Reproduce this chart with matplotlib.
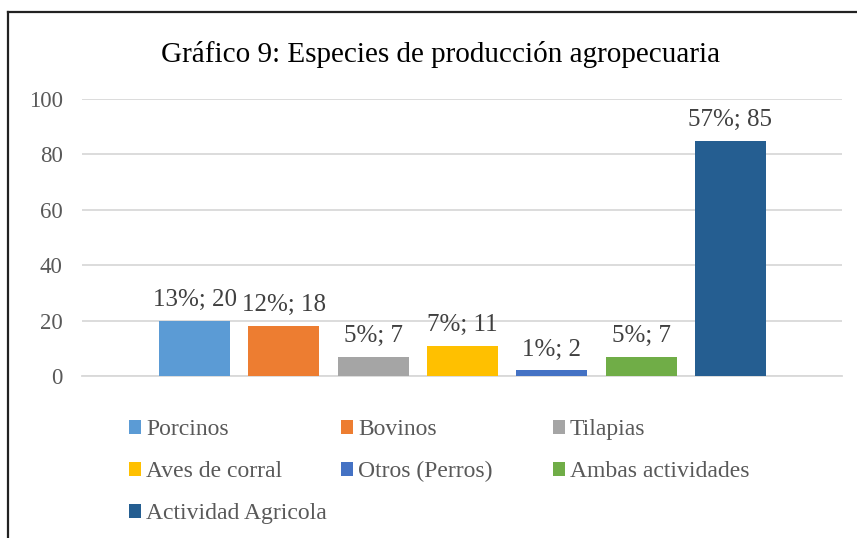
import numpy as np
import matplotlib.pyplot as plt
from matplotlib.lines import Line2D
from matplotlib.patches import Patch

plt.rcParams['font.family'] = ['Liberation Serif', 'DejaVu Serif']

# data
especies = ['Porcinos', 'Bovinos', 'Tilapias', 'Aves de corral',
            'Otros (Perros)', 'Ambas actividades', 'Actividad Agricola']
cantidad = [20, 18, 7, 11, 2, 7, 85]
colores = ['#5B9BD5', '#ED7D31', '#A5A5A5', '#FFC000',
           '#4472C4', '#70AD47', '#255E91']
yticks = [0, 20, 40, 60, 80, 100]

W, H = 857, 538
fig = plt.figure(figsize=(W / 100, H / 100), dpi=100)
ax = fig.add_axes([82 / W, 1 - 376 / H, (842 - 82) / W, (376 - 99) / H])

total = sum(cantidad)
x = np.arange(len(cantidad))
bars = ax.bar(x, cantidad, width=0.795, color=colores, zorder=3)
etiquetas = ['%d%%; %d' % (round(100 * v / total), v) for v in cantidad]
ax.bar_label(bars, labels=etiquetas, padding=7, fontsize=18, color='#404040')

ax.set_xlim(-1.26, 7.25)
ax.set_ylim(0, 100)
ax.set_yticks(yticks)
ax.set_xticks([])
ax.grid(axis='y', color='#D9D9D9', linewidth=1.3, zorder=0)
for s in ['top', 'right', 'left']:
    ax.spines[s].set_visible(False)
ax.spines['bottom'].set_color('#D9D9D9')
ax.spines['bottom'].set_linewidth(1.3)
ax.tick_params(axis='y', length=0, pad=14, labelsize=16.5, labelcolor='#595959')

fig.text(0.5 * (159 + 722) / W, 1 - 62 / H,
         'Gráfico 9: Especies de producción agropecuaria',
         ha='center', va='baseline', fontsize=21, color='#000000')

# legend: three columns placed like the original
handles = [Patch(facecolor=c, edgecolor='none') for c in colores]
columnas = [[0, 3, 6], [1, 4], [2, 5]]
col_x = [129, 341, 553]
for xc, idx in zip(col_x, columnas):
    fig.legend([handles[i] for i in idx], [especies[i] for i in idx],
               loc='upper left', bbox_to_anchor=(xc / W, 1 - 419 / H),
               frameon=False, fontsize=17, labelcolor='#595959',
               handlelength=0.52, handleheight=0.52, handletextpad=0.2,
               labelspacing=0.9, borderpad=0, borderaxespad=0)

# outer frame (top and left edges visible)
fig.add_artist(Line2D([8 / W, 8 / W], [0, 1 - 12 / H], color='#222222', lw=1.6))
fig.add_artist(Line2D([8 / W, 1], [1 - 12 / H, 1 - 12 / H], color='#222222', lw=1.6))

fig.savefig('out.png', dpi=100)
